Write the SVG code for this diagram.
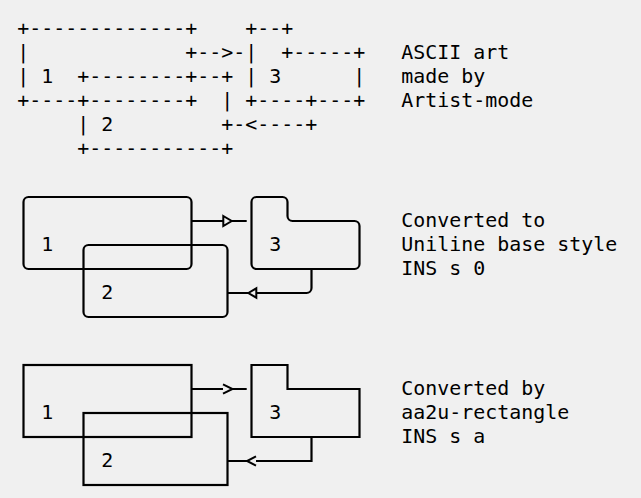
<svg xmlns="http://www.w3.org/2000/svg" width="641" height="498" viewBox="0 0 641 498">
<style>
text{font-family:"DejaVu Sans Mono","Liberation Mono",monospace;font-size:19.93px;fill:#000}
.ln{fill:none;stroke:#000;stroke-width:2.2}
.hd{fill:none;stroke:#000;stroke-width:2;stroke-linejoin:miter}
</style>
<rect width="641" height="498" fill="#f0f0f0"/>
<g id="ascii-art">
<text xml:space="preserve"><tspan x="17.3" y="35.3">+-------------+    +--+</tspan><tspan x="17.3" y="59.3">|             +-->-|  +-----+</tspan><tspan x="17.3" y="83.3">| 1  +--------+--+ | 3      |</tspan><tspan x="17.3" y="107.3">+----+--------+  | +----+---+</tspan><tspan x="17.3" y="131.3">     | 2         +-&lt;----+</tspan><tspan x="17.3" y="155.3">     +-----------+</tspan></text>
</g>
<g id="captions">
<text><tspan x="401.3" y="59.3">ASCII art</tspan><tspan x="401.3" y="83.3">made by</tspan><tspan x="401.3" y="107.3">Artist-mode</tspan></text>
<text><tspan x="401.3" y="227.3">Converted to</tspan><tspan x="401.3" y="251.3">Uniline base style</tspan><tspan x="401.3" y="275.3">INS s 0</tspan></text>
<text><tspan x="401.3" y="395.3">Converted by</tspan><tspan x="401.3" y="419.3">aa2u-rectangle</tspan><tspan x="401.3" y="443.3">INS s a</tspan></text>
</g>
<g id="u-node-1"><rect class="ln" x="23.5" y="197" width="168" height="72" rx="5"/><text x="41.3" y="251.3">1</text></g>
<g id="u-node-2"><rect class="ln" x="83.5" y="245" width="144" height="72" rx="5"/><text x="101.3" y="299.3">2</text></g>
<g id="u-node-3"><path class="ln" d="M251.5,202 A5,5 0 0 1 256.5,197 H282.5 A5,5 0 0 1 287.5,202 V216 A5,5 0 0 0 292.5,221 H354.5 A5,5 0 0 1 359.5,226 V264 A5,5 0 0 1 354.5,269 H256.5 A5,5 0 0 1 251.5,264 Z"/><text x="269.3" y="251.3">3</text></g>
<g id="a-node-1"><rect class="ln" x="23.5" y="365" width="168" height="72"/><text x="41.3" y="419.3">1</text></g>
<g id="a-node-2"><rect class="ln" x="83.5" y="413" width="144" height="72"/><text x="101.3" y="467.3">2</text></g>
<g id="a-node-3"><path class="ln" d="M251.5,365 H287.5 V389 H359.5 V437 H251.5 Z"/><text x="269.3" y="419.3">3</text></g>
<g id="connectors">
<path class="ln" d="M191.5,221 H223.3 M231.7,221 H246.7"/>
<polygon class="hd" points="223.3,216 231.7,221 223.3,226"/>
<path class="ln" d="M311.5,269 V288 A5,5 0 0 1 306.5,293 H256.3 M248.3,293 H227.5"/>
<polygon class="hd" points="248.3,293 256.3,288.3 256.3,297.7"/>
<path class="ln" d="M191.5,389 H223 M232.5,389 H246.7"/>
<polyline class="hd" points="223,384.3 232.5,389 223,393.7"/>
<path class="ln" d="M311.5,437 V461 H256 M247,461 H227.5"/>
<polyline class="hd" points="256,456.3 247,461 256,465.7"/>
</g>
</svg>
